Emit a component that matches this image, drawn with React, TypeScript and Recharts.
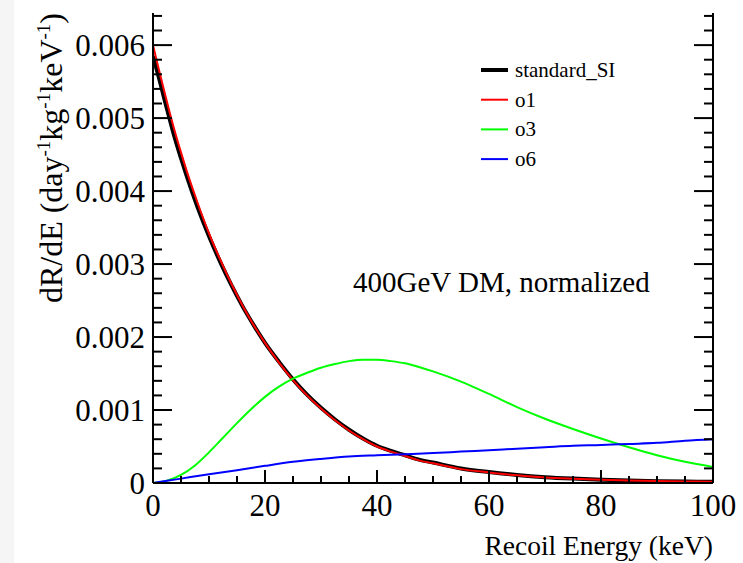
import React from 'react';
import { LineChart, Line, XAxis, YAxis, Customized } from 'recharts';

// recoil energy grids (keV)
const E_FINE = [0, 1, 2, 3, 4, 5, 6, 8, 10, 12, 14, 16, 18, 20, 22.5, 25, 27.5, 30, 32.5, 35, 37.5, 40, 42.5, 45, 47.5, 50, 55, 60, 65, 70, 75, 80, 85, 90, 95, 100];
const STANDARD_SI = [0.00585, 0.00557, 0.00527, 0.00498, 0.0047, 0.00445, 0.00421, 0.00377, 0.00338, 0.00303, 0.00271, 0.00242, 0.00216, 0.00192, 0.00166, 0.00142, 0.00121, 0.00103, 0.00087, 0.00073, 0.00061, 0.00051, 0.00044, 0.00038, 0.00032, 0.00028, 0.0002, 0.00015, 0.00011, 0.00008, 0.00006, 0.000045, 0.000033, 0.000025, 0.00002, 0.000016];
const O1 = [0.006, 0.00568, 0.00537, 0.00507, 0.00479, 0.00453, 0.00428, 0.00383, 0.00342, 0.00306, 0.00273, 0.00243, 0.00216, 0.00192, 0.00165, 0.00141, 0.0012, 0.00102, 0.00086, 0.00072, 0.0006, 0.0005, 0.00043, 0.00037, 0.00031, 0.00027, 0.00019, 0.000145, 0.000105, 0.000075, 0.000058, 0.000045, 0.000035, 0.000028, 0.000022, 0.000018];

const E_O3 = [0, 2.5, 5, 7.5, 10, 12.5, 15, 17.5, 20, 22.5, 25, 27.5, 30, 32.5, 35, 37.5, 40, 42.5, 45, 47.5, 50, 55, 60, 65, 70, 75, 80, 85, 90, 95, 100];
const O3 = [0, 0.00003, 0.00011, 0.00024, 0.00042, 0.00062, 0.00082, 0.00101, 0.00118, 0.00132, 0.00143, 0.00151, 0.00158, 0.00163, 0.00167, 0.00169, 0.00169, 0.00167, 0.00164, 0.00159, 0.00153, 0.00139, 0.00122, 0.00104, 0.00088, 0.00074, 0.00061, 0.00049, 0.00038, 0.00029, 0.00022];

const E_O6 = [0, 5, 10, 15, 20, 25, 30, 35, 40, 45, 50, 55, 60, 65, 70, 75, 80, 85, 90, 95, 100];
const O6 = [0, 0.00006, 0.00012, 0.000175, 0.000235, 0.00029, 0.00033, 0.000363, 0.00038, 0.000395, 0.00041, 0.00043, 0.00045, 0.00047, 0.00049, 0.00051, 0.00052, 0.000535, 0.00055, 0.00058, 0.0006];

const SERIES = [
  { name: 'standard_SI', color: '#000000', width: 4 },
  { name: 'o1', color: '#ff0000', width: 2 },
  { name: 'o3', color: '#00ff00', width: 2 },
  { name: 'o6', color: '#0000ff', width: 2 },
];

const X_TICKS = [0, 5, 10, 15, 20, 25, 30, 35, 40, 45, 50, 55, 60, 65, 70, 75, 80, 85, 90, 95, 100];
const Y_MAX = 0.00644;
const Y_TICKS: number[] = [];
for (let k = 0; k <= 32; k++) Y_TICKS.push(Math.round(k * 2) / 10000);

const FONT = '"Liberation Serif", "Times New Roman", serif';

const siData = E_FINE.map((e, i) => ({ e, v: STANDARD_SI[i] }));
const o1Data = E_FINE.map((e, i) => ({ e, v: O1[i] }));
const o3Data = E_O3.map((e, i) => ({ e, v: O3[i] }));
const o6Data = E_O6.map((e, i) => ({ e, v: O6[i] }));

const isMajorY = (v: number) => Math.abs(v * 1000 - Math.round(v * 1000)) < 1e-6;

function LeftTick({ x, y, payload }: any) {
  const v = payload.value;
  const major = isMajorY(v);
  return (
    <g>
      <line x1={x} x2={x + (major ? 19 : 9)} y1={y} y2={y} stroke="#000" strokeWidth={2} />
      {major && (
        <text x={x - 8} y={y + 11} textAnchor="end" fontFamily={FONT} fontSize={31} fill="#000">
          {v === 0 ? '0' : v.toFixed(3)}
        </text>
      )}
    </g>
  );
}

function RightTick({ x, y, payload }: any) {
  const major = isMajorY(payload.value);
  return <line x1={x} x2={x - (major ? 19 : 9)} y1={y} y2={y} stroke="#000" strokeWidth={2} />;
}

function BottomTick({ x, y, payload }: any) {
  const v = payload.value;
  const major = v % 20 === 0;
  return (
    <g>
      <line x1={x} x2={x} y1={y} y2={y - (major ? 13 : 7)} stroke="#000" strokeWidth={2} />
      {major && (
        <text x={x} y={y + 33} textAnchor="middle" fontFamily={FONT} fontSize={31} fill="#000">
          {v}
        </text>
      )}
    </g>
  );
}

function YTitle() {
  return (
    <text transform="rotate(-90)" x={-13} y={62} textAnchor="end" fontFamily={FONT} fontSize={32} fill="#000">
      dR/dE (day
      <tspan fontSize={19} dy={-12}>-1</tspan>
      <tspan dy={12}>kg</tspan>
      <tspan fontSize={19} dy={-12}>-1</tspan>
      <tspan dy={12}>keV</tspan>
      <tspan fontSize={19} dy={-12}>-1</tspan>
      <tspan dy={12}>)</tspan>
    </text>
  );
}

function Overlay() {
  return (
    <g fontFamily={FONT} fill="#000">
      <text x={713} y={555} textAnchor="end" fontSize={27.5}>Recoil Energy (keV)</text>
      <YTitle />
      <text x={353} y={292} fontSize={29}>400GeV DM, normalized</text>
      {SERIES.map((s, i) => {
        const cy = 70 + i * 29.7;
        return (
          <g key={s.name}>
            <line x1={481} x2={508} y1={cy} y2={cy} stroke={s.color} strokeWidth={s.width} />
            <text x={515} y={cy + 7} fontSize={21}>{s.name}</text>
          </g>
        );
      })}
    </g>
  );
}

export default function App() {
  return (
    <div style={{ position: 'absolute', left: 0, top: 0, width: 743, height: 563, background: '#fff' }}>
      <div style={{ position: 'absolute', left: 0, top: 0, width: 14, height: 563, background: '#f5f5f5' }} />
      <div style={{ position: 'absolute', left: 0, top: 0 }}>
        <LineChart width={743} height={563} margin={{ top: 13, right: 0, bottom: 0, left: 0 }}>
          <XAxis xAxisId="b" dataKey="e" type="number" domain={[0, 100]} ticks={X_TICKS} interval={0}
            height={80} tickSize={0} tickMargin={0} tickLine={false} tick={<BottomTick />}
            axisLine={{ stroke: '#000', strokeWidth: 2 }} allowDataOverflow />
          <XAxis xAxisId="t" orientation="top" dataKey="e" type="number" domain={[0, 100]} height={0}
            tick={false} tickLine={false} axisLine={{ stroke: '#000', strokeWidth: 2 }} />
          <YAxis yAxisId="l" dataKey="v" type="number" domain={[0, Y_MAX]} ticks={Y_TICKS} interval={0}
            width={153} tickSize={0} tickMargin={0} tickLine={false} tick={<LeftTick />}
            axisLine={{ stroke: '#000', strokeWidth: 2 }} allowDataOverflow />
          <YAxis yAxisId="r" orientation="right" dataKey="v" type="number" domain={[0, Y_MAX]} ticks={Y_TICKS} interval={0}
            width={30} tickSize={0} tickMargin={0} tickLine={false} tick={<RightTick />}
            axisLine={{ stroke: '#000', strokeWidth: 2 }} allowDataOverflow />
          <Line xAxisId="b" yAxisId="l" data={siData} dataKey="v" type="monotone" stroke="#000" strokeWidth={4} dot={false} isAnimationActive={false} />
          <Line xAxisId="b" yAxisId="l" data={o1Data} dataKey="v" type="monotone" stroke="#ff0000" strokeWidth={2} dot={false} isAnimationActive={false} />
          <Line xAxisId="b" yAxisId="l" data={o3Data} dataKey="v" type="monotone" stroke="#00ff00" strokeWidth={2} dot={false} isAnimationActive={false} />
          <Line xAxisId="b" yAxisId="l" data={o6Data} dataKey="v" type="monotone" stroke="#0000ff" strokeWidth={2} dot={false} isAnimationActive={false} />
          <Customized component={Overlay} />
        </LineChart>
      </div>
    </div>
  );
}
